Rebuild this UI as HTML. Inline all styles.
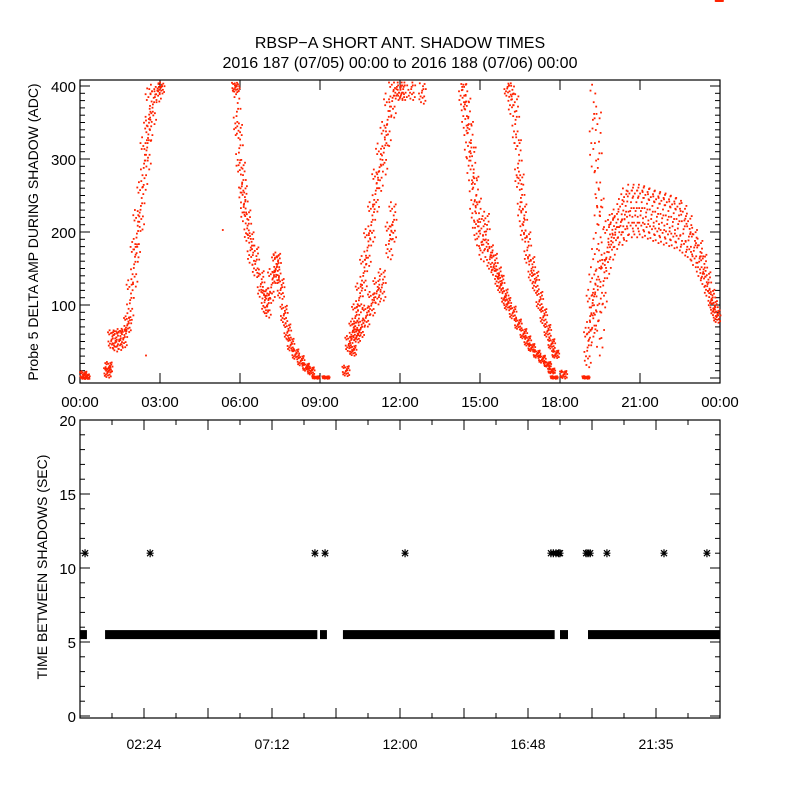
<!DOCTYPE html>
<html><head><meta charset="utf-8"><style>
body{margin:0;background:#fff}
svg{display:block;font-family:"Liberation Sans",sans-serif}
</style></head><body>
<svg id="c" width="800" height="800" viewBox="0 0 800 800">
<rect width="800" height="800" fill="#fff"/>
<text x="400" y="48" font-size="16" text-anchor="middle">RBSP−A SHORT ANT. SHADOW TIMES</text>
<text x="400" y="68" font-size="16" text-anchor="middle">2016 187 (07/05) 00:00 to 2016 188 (07/06) 00:00</text>
<g id="topPanel"></g>
<g id="botPanel"></g>
</svg>
<script>
// ---- top panel data (hour, ADC, vertical scatter spread) ----
const topHours=[0.1,0.2,1.0,1.05,1.15,1.3,1.45,1.6,1.75,1.85,2.0,2.1,2.25,2.37,2.5,2.56,2.7,2.88,3.0,2.44,5.32,
5.8,5.85,5.94,6.05,6.12,6.25,6.37,6.55,6.75,6.9,7.0,7.15,7.3,7.37,7.5,7.62,7.75,7.87,8.05,8.25,8.45,8.63,8.81,9.19,
9.94,10.05,10.2,10.3,10.44,10.6,10.75,10.9,11.06,11.2,11.37,11.5,11.69,11.85,12.0,12.1,
10.2,10.35,10.5,10.7,10.9,11.1,11.3,11.56,11.7,12.4,12.8,
14.3,14.4,14.5,14.6,14.7,14.8,14.9,15.05,15.2,15.35,15.5,15.65,15.75,15.9,16.0,16.2,16.4,16.6,16.75,16.9,17.1,17.3,17.5,17.65,17.75,
16.0,16.15,16.3,16.4,16.5,16.6,16.75,16.9,17.05,17.2,17.35,17.5,17.65,17.8,18.1,
18.94,19.0,19.1,19.2,19.3,19.4,19.5,19.2,19.4,19.6,19.75,19.9,20.05,20.25,20.4,20.6,20.8,21.0,21.2,21.4,21.6,21.8,22.0,22.2,22.4,22.6,22.8,23.0,23.2,23.35,23.5,23.65,23.75,23.85,23.94];
const topValues=[5,3,9,16,54,52,54,56,75,108,157,199,237,295,323,362,376,398,400,32,204,
400,366,316,269,240,210,180,161,130,108,102,129,151,157,124,89,65,47,34,25,16,11,2,2,
11,48,66,86,111,145,180,215,258,290,316,355,385,400,400,400,
39,59,70,86,103,120,129,189,215,400,395,
400,376,344,312,269,237,215,188,202,167,157,140,130,113,103,91,75,62,52,43,34,27,20,11,2,
400,387,355,295,248,215,180,151,134,108,86,66,48,34,6,
2,43,86,108,129,140,151,355,301,134,180,194,205,215,225,230,230,230,228,225,222,220,218,215,212,205,195,180,165,150,130,110,97,86];
const topSpread=[6,4,8,8,14,16,16,14,12,30,34,36,36,40,40,40,30,20,10,0,0,
8,40,40,34,30,26,26,24,22,20,20,24,22,18,16,14,12,10,8,8,6,6,2,2,
8,12,14,18,22,26,28,30,32,36,40,40,30,20,20,20,
8,10,14,16,18,20,24,28,30,20,20,
30,40,50,50,60,50,40,30,30,20,18,16,14,12,10,10,8,8,8,6,6,6,4,4,2,
15,30,40,40,40,30,26,20,16,14,12,10,8,6,6,
2,30,40,50,70,120,120,80,80,40,40,34,30,35,40,40,40,40,40,40,40,40,40,40,40,40,35,30,30,25,20,15,12,10];
// ---- bottom panel data ----
const bandStart=[0.0,0.94,9.0,9.86,18.0,19.05];
const bandEnd=[0.26,8.9,9.26,17.8,18.3,24.0];
const bandValue=[5.5,5.5,5.5,5.5,5.5,5.5];
const outlierHours=[0.19,2.63,8.81,9.19,12.19,17.66,17.75,17.85,17.95,18.0,18.98,19.05,19.13,19.76,21.9,23.51];
const outlierValues=[11,11,11,11,11,11,11,11,11,11,11,11,11,11,11,11];
const topXTicks=['00:00','03:00','06:00','09:00','12:00','15:00','18:00','21:00','00:00'];
const topYTicks=[0,100,200,300,400];
const botXTicks=['02:24','07:12','12:00','16:48','21:35'];
const botYTicks=[0,5,10,15,20];

const NS='http://www.w3.org/2000/svg';
function mk(tag,attrs,parent){const e=document.createElementNS(NS,tag);for(const k in attrs)e.setAttribute(k,attrs[k]);parent.appendChild(e);return e;}
const L=80,R=720;
const xs=h=>L+h*(R-L)/24;
const ty=v=>378-v*0.73;
const by=v=>716-v*14.8;
const topG=document.getElementById('topPanel'),botG=document.getElementById('botPanel');

// top frame
let f=mk('rect',{x:L,y:80,width:R-L,height:303,fill:'none',stroke:'#000','stroke-width':1.2},topG);


for(let v=0;v<=400;v+=10){const len=v%100===0?10:5;const y=ty(v);
 mk('line',{x1:L,x2:L+len,y1:y,y2:y,stroke:'#000'},topG);mk('line',{x1:R-len,x2:R,y1:y,y2:y,stroke:'#000'},topG);}
topYTicks.forEach(v=>{const t=mk('text',{x:76,y:ty(v)+6,'font-size':15,'text-anchor':'end'},topG);t.textContent=v;
 
 });
topXTicks.forEach((s,i)=>{const x=xs(i*3);mk('line',{x1:x,x2:x,y1:383,y2:373,stroke:'#000'},topG);mk('line',{x1:x,x2:x,y1:80,y2:90,stroke:'#000'},topG);
 const t=mk('text',{x:x,y:407,'font-size':15,'text-anchor':'middle'},topG);t.textContent=s;
 
 });
let yt=mk('text',{x:0,y:0,'font-size':14,'text-anchor':'middle',transform:'translate(38,232) rotate(-90)'},topG);
yt.textContent='Probe 5 DELTA AMP DURING SHADOW (ADC)';


// scatter
const pat=[[0,0],[-0.6,0.5],[0.5,-0.4],[-0.3,-0.8],[0.7,0.8],[0.2,0.3],[-0.8,-0.2],[0.4,-0.9],[-0.5,0.9],[0.9,0.1],[0.1,-0.5],[-0.2,0.6],
[0.3,0.1],[-0.4,-0.4],[0.6,0.45],[-0.9,0.7],[0.8,-0.7],[-0.1,-0.15],[0.35,0.7],[-0.7,-0.6]];
const dots=mk('g',{fill:'#ff2200'},topG);


topHours.forEach((h,i)=>{const v=topValues[i],s=topSpread[i];
 const n=s===0?1:pat.length;
 for(let k=0;k<n;k++){const vv=Math.max(0,v+pat[k][1]*s);if(vv>406)continue;const x=xs(h)+pat[k][0]*4;
  mk('rect',{x:x.toFixed(1),y:ty(vv).toFixed(1),width:1.8,height:1.8},dots);}
});

// bottom frame
f=mk('rect',{x:L,y:420,width:R-L,height:298,fill:'none',stroke:'#000','stroke-width':1.2},botG);


for(let v=0;v<=20;v+=1){const len=v%5===0?10:5;const y=by(v);
 mk('line',{x1:L,x2:L+len,y1:y,y2:y,stroke:'#000'},botG);mk('line',{x1:R-len,x2:R,y1:y,y2:y,stroke:'#000'},botG);}
botYTicks.forEach(v=>{const t=mk('text',{x:76,y:by(v)+6,'font-size':15,'text-anchor':'end'},botG);t.textContent=v;
 
 });
for(let k=1;k<20;k++){const x=xs(k*1.2);const len=k%2===0?10:5;
 mk('line',{x1:x,x2:x,y1:718,y2:718-len,stroke:'#000'},botG);mk('line',{x1:x,x2:x,y1:420,y2:420+len,stroke:'#000'},botG);}
botXTicks.forEach((s,i)=>{const x=xs((i+1)*4.8-2.4);const t=mk('text',{x:x,y:749,'font-size':14,'text-anchor':'middle'},botG);t.textContent=s;
 
 });
yt=mk('text',{x:0,y:0,'font-size':14,'text-anchor':'middle',transform:'translate(47,567) rotate(-90)'},botG);
yt.textContent='TIME BETWEEN SHADOWS (SEC)';


const band=mk('g',{fill:'#000'},botG);


bandStart.forEach((s,i)=>{const x0=xs(s),x1=xs(bandEnd[i]);const yc=by(bandValue[i]);
 const r=mk('rect',{x:x0,y:yc-4.5,width:Math.max(3,x1-x0),height:9},band);
 
 });
outlierHours.forEach((h,i)=>{const cx=xs(h),cy=by(outlierValues[i]);
 const g=mk('path',{d:`M${cx-3.5},${cy}H${cx+3.5}M${cx},${cy-4}V${cy+4}M${cx-3},${cy-3}L${cx+3},${cy+3}M${cx-3},${cy+3}L${cx+3},${cy-3}`,stroke:'#000','stroke-width':1.2,fill:'none'},botG);
 
 });
</script>
</body></html>
